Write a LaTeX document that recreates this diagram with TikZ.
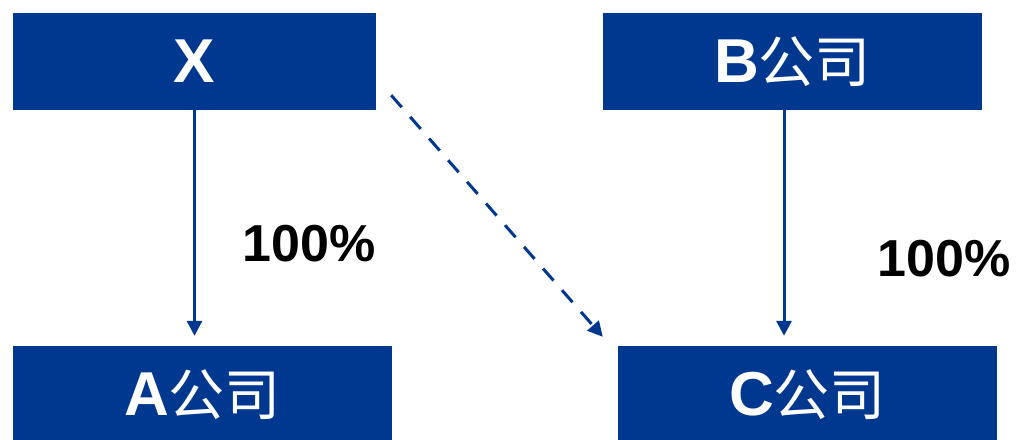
\documentclass[tikz,border=0pt]{standalone}
\usepackage{fontspec}
\setmainfont{Liberation Sans}
\newfontfamily\cjk{Noto Sans CJK SC}
\usetikzlibrary{arrows.meta}
\definecolor{boxblue}{RGB}{0,56,144}

\begin{document}
\begin{tikzpicture}[x=1pt,y=-1pt]
\useasboundingbox (0,0) rectangle (1016,439);
\begin{scope}[every node/.style={fill=boxblue,text=white,inner sep=0pt,minimum height=97pt,font=\fontsize{62}{62}\selectfont\bfseries}]
\node[minimum width=363pt] (X) at (194.5,61.5) {X};
\node[minimum width=379pt] (B) at (792.5,61.5) {B{\cjk\mdseries\fontsize{56}{56}\selectfont 公司}};
\node[minimum width=379pt] (A) at (202.5,394.5) {A{\cjk\mdseries\fontsize{56}{56}\selectfont 公司}};
\node[minimum width=379pt] (C) at (807.5,394.5) {C{\cjk\mdseries\fontsize{56}{56}\selectfont 公司}};
\end{scope}
\begin{scope}[every node/.style={font=\fontsize{52}{52}\selectfont\bfseries}]
\node (p1) at (309,244) {100\%};
\node (p2) at (944,259) {100\%};
\end{scope}
\draw [boxblue, line width=3pt, -{Triangle[width=15pt,length=15pt]}, shorten >=10pt] (X.south) -- (X.south |- A.north);
\draw [boxblue, line width=3pt, -{Triangle[width=15pt,length=15pt]}, shorten >=10pt] ([xshift=-8.5pt]B.south) -- ([xshift=-8.5pt]B.south |- C.north);
\draw [boxblue, line width=3pt, dash pattern=on 16pt off 12.8pt, -{Triangle[width=15pt,length=15pt]}] ([xshift=15pt,yshift=15pt]X.south east) -- ([xshift=-15pt,yshift=9pt]C.north west);
\end{tikzpicture}
\end{document}
